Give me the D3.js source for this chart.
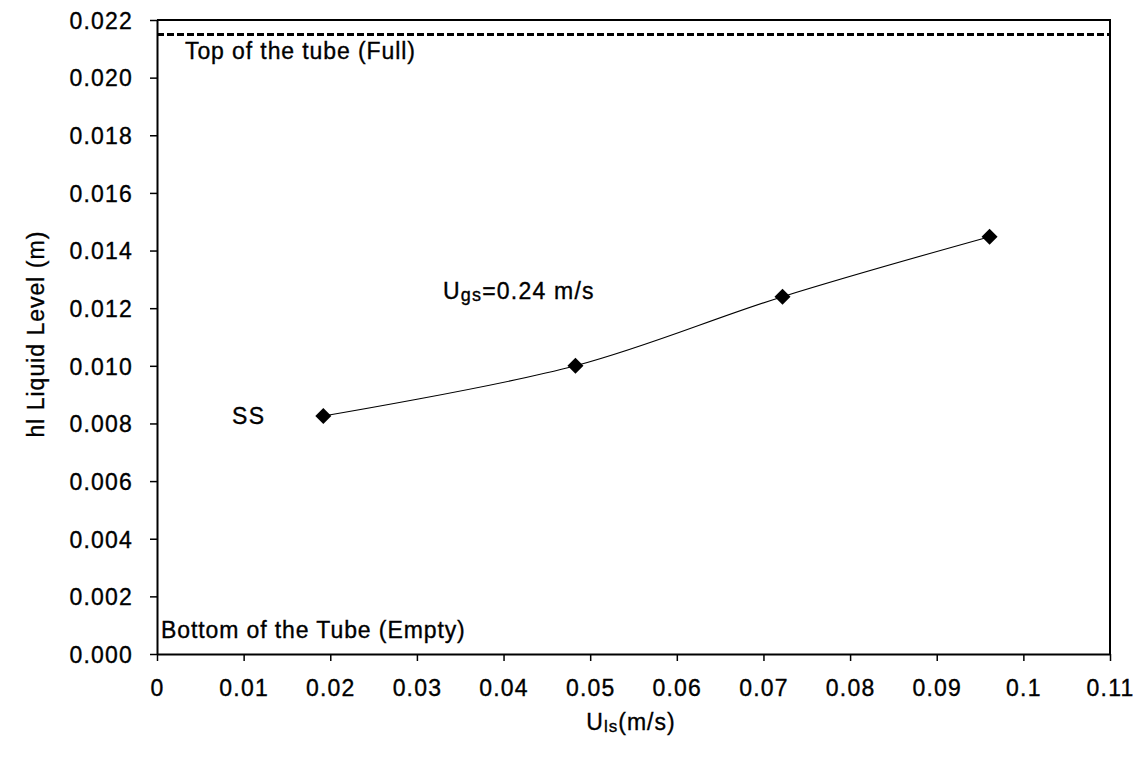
<!DOCTYPE html>
<html>
<head>
<meta charset="utf-8">
<script src="https://cdn.jsdelivr.net/npm/d3@7"></script>
<style>
  body { margin: 0; background: #fff; }
  text { font-family: "Liberation Sans", Arial, sans-serif; fill: #000; stroke: #000; stroke-width: 0.35px; }
</style>
</head>
<body>
<script>
var W = 1143, H = 763;
var margin = { left: 157, right: 33, top: 20, bottom: 109 };

// data
var uls = [0.0192, 0.0483, 0.0722, 0.0961];
var hl = [0.00826, 0.0100, 0.0124, 0.01448];
var topOfTube = 0.0215;
var xTicks = [0, 0.01, 0.02, 0.03, 0.04, 0.05, 0.06, 0.07, 0.08, 0.09, 0.1, 0.11];
var yTicks = [0, 0.002, 0.004, 0.006, 0.008, 0.010, 0.012, 0.014, 0.016, 0.018, 0.020, 0.022];

var svg = d3.select("body").append("svg")
  .attr("width", W)
  .attr("height", H);

var x = d3.scaleLinear().domain([0, 0.11]).range([margin.left, W - margin.right]);
var y = d3.scaleLinear().domain([0, 0.022]).range([H - margin.bottom, margin.top]);

var xAxis = d3.axisBottom(x).tickValues(xTicks).tickSize(7).tickSizeOuter(0)
  .tickFormat(function(d) { return String(+d.toFixed(2)); });
var yAxis = d3.axisLeft(y).tickValues(yTicks).tickSize(7).tickSizeOuter(0)
  .tickFormat(d3.format(".3f"));

var gx = svg.append("g")
  .attr("transform", "translate(0," + (H - margin.bottom) + ")")
  .call(xAxis);
gx.selectAll("text")
  .attr("font-size", "23px")
  .attr("letter-spacing", "1.2px")
  .attr("y", 42)
  .attr("dy", 0);

var gy = svg.append("g")
  .attr("transform", "translate(" + margin.left + ",0)")
  .call(yAxis);
gy.selectAll("text")
  .attr("font-size", "23px")
  .attr("letter-spacing", "1.2px")
  .attr("x", -24)
  .attr("dy", "0.36em");

svg.selectAll(".domain").attr("stroke", "#000").attr("stroke-width", 2);
svg.selectAll(".tick line").attr("stroke", "#000").attr("stroke-width", 1.5);

// frame top and right
svg.append("path")
  .attr("d", "M" + margin.left + "," + y(0.022) + "H" + x(0.11) + "V" + y(0))
  .attr("fill", "none")
  .attr("stroke", "#000")
  .attr("stroke-width", 2);

// top of tube dashed line
svg.append("line")
  .attr("x1", x(0)).attr("x2", x(0.11))
  .attr("y1", y(topOfTube)).attr("y2", y(topOfTube))
  .attr("stroke", "#000")
  .attr("stroke-width", 3)
  .attr("stroke-dasharray", "7,3");

svg.append("text")
  .attr("x", 185).attr("y", y(topOfTube) + 25)
  .attr("font-size", "23px")
  .attr("letter-spacing", "0.9px")
  .text("Top of the tube (Full)");

svg.append("text")
  .attr("x", 161).attr("y", y(0) - 16)
  .attr("font-size", "23px")
  .attr("letter-spacing", "0.9px")
  .text("Bottom of the Tube (Empty)");

// series
var pts = uls.map(function(d, i) { return [d, hl[i]]; });

svg.append("path")
  .datum(pts)
  .attr("fill", "none")
  .attr("stroke", "#000")
  .attr("stroke-width", 1.1)
  .attr("d", d3.line()
    .x(function(d) { return x(d[0]); })
    .y(function(d) { return y(d[1]); })
    .curve(d3.curveCatmullRom));

svg.selectAll(".pt")
  .data(pts)
  .enter()
  .append("path")
  .attr("class", "pt")
  .attr("transform", function(d) { return "translate(" + x(d[0]) + "," + y(d[1]) + ")"; })
  .attr("d", "M0,-8L8,0L0,8L-8,0Z")
  .attr("fill", "#000");

svg.append("text")
  .attr("x", 232).attr("y", 424)
  .attr("font-size", "23px")
  .attr("letter-spacing", "1.5px")
  .text("SS");

var ug = svg.append("text")
  .attr("x", 443).attr("y", 299)
  .attr("font-size", "23px")
  .attr("letter-spacing", "1.2px");
ug.append("tspan").text("U");
ug.append("tspan").attr("font-size", "18px").attr("dy", 2).text("gs");
ug.append("tspan").attr("dy", -2).text("=0.24 m/s");

// axis titles
var xt = svg.append("text")
  .attr("x", 631).attr("y", 730)
  .attr("text-anchor", "middle")
  .attr("font-size", "23px")
  .attr("letter-spacing", "1px");
xt.append("tspan").text("U");
xt.append("tspan").attr("font-size", "17px").attr("dy", 2).text("ls");
xt.append("tspan").attr("dy", -2).text("(m/s)");

svg.append("text")
  .attr("transform", "translate(44," + y(0.0111) + ") rotate(-90)")
  .attr("text-anchor", "middle")
  .attr("font-size", "23px")
  .attr("letter-spacing", "1px")
  .text("hl Liquid Level (m)");
</script>
</body>
</html>
